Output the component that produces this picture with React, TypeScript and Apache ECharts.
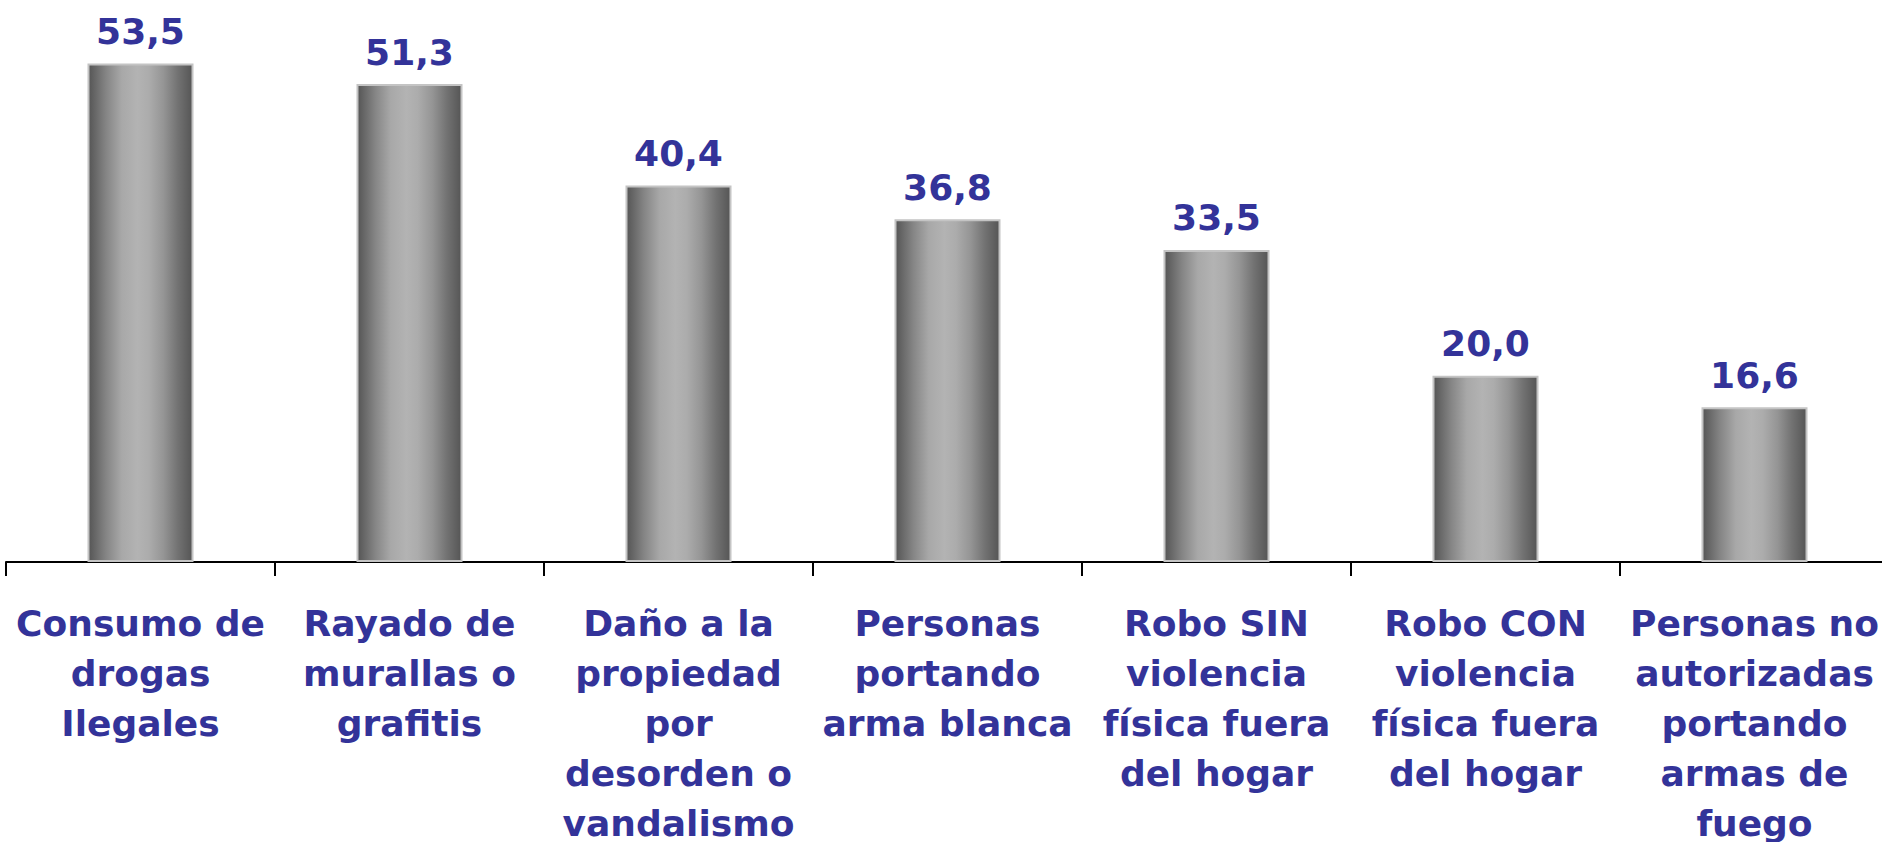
import React, { useEffect, useRef } from "react";
import * as echarts from "echarts";

const categories = [
  "Consumo de\ndrogas\nIlegales",
  "Rayado de\nmurallas o\ngrafitis",
  "Daño a la\npropiedad\npor\ndesorden o\nvandalismo",
  "Personas\nportando\narma blanca",
  "Robo SIN\nviolencia\nfísica fuera\ndel hogar",
  "Robo CON\nviolencia\nfísica fuera\ndel hogar",
  "Personas no\nautorizadas\nportando\narmas de\nfuego",
];
const values = [53.5, 51.3, 40.4, 36.8, 33.5, 20.0, 16.6];

const FONT = "'DejaVu Sans', Verdana, sans-serif";
const BLUE = "#333399";

export default function App() {
  const ref = useRef<HTMLDivElement>(null);
  useEffect(() => {
    if (!ref.current) return;
    const chart = echarts.init(ref.current, undefined, { renderer: "svg" });
    chart.setOption({
      animation: false,
      backgroundColor: "#ffffff",
      grid: {
        left: 6,
        width: 1883,
        top: 3,
        bottom: 280,
        containLabel: false,
        outerBoundsMode: "none",
      },
      xAxis: {
        type: "category",
        data: categories,
        axisLine: { show: true, lineStyle: { color: "#000000", width: 2 } },
        axisTick: { show: true, length: 14, lineStyle: { color: "#000000", width: 2 } },
        axisLabel: {
          interval: 0,
          margin: 36,
          color: BLUE,
          fontFamily: FONT,
          fontWeight: "bold",
          fontSize: 36,
          lineHeight: 50,
          align: "center",
        },
      },
      yAxis: {
        type: "value",
        min: 0,
        max: 60,
        show: false,
        splitLine: { show: false },
      },
      series: [
        {
          type: "bar",
          data: values,
          barWidth: 106,
          itemStyle: {
            borderColor: "#c4c4c4",
            borderWidth: 2,
            color: new echarts.graphic.LinearGradient(0, 0, 1, 0, [
              { offset: 0, color: "#555555" },
              { offset: 0.17, color: "#858585" },
              { offset: 0.32, color: "#a8a8a8" },
              { offset: 0.47, color: "#b3b3b3" },
              { offset: 0.58, color: "#acacac" },
              { offset: 0.72, color: "#959595" },
              { offset: 0.86, color: "#727272" },
              { offset: 1, color: "#555555" },
            ]),
          },
          label: {
            show: true,
            position: "top",
            distance: 14,
            color: BLUE,
            fontFamily: FONT,
            fontWeight: "bold",
            fontSize: 36,
            formatter: (p: any) => Number(p.value).toFixed(1).replace(".", ","),
          },
        },
      ],
    });
    return () => chart.dispose();
  }, []);
  return (
    <div
      ref={ref}
      style={{ position: "fixed", left: 0, top: 0, width: 1882, height: 842, background: "#fff" }}
    />
  );
}
